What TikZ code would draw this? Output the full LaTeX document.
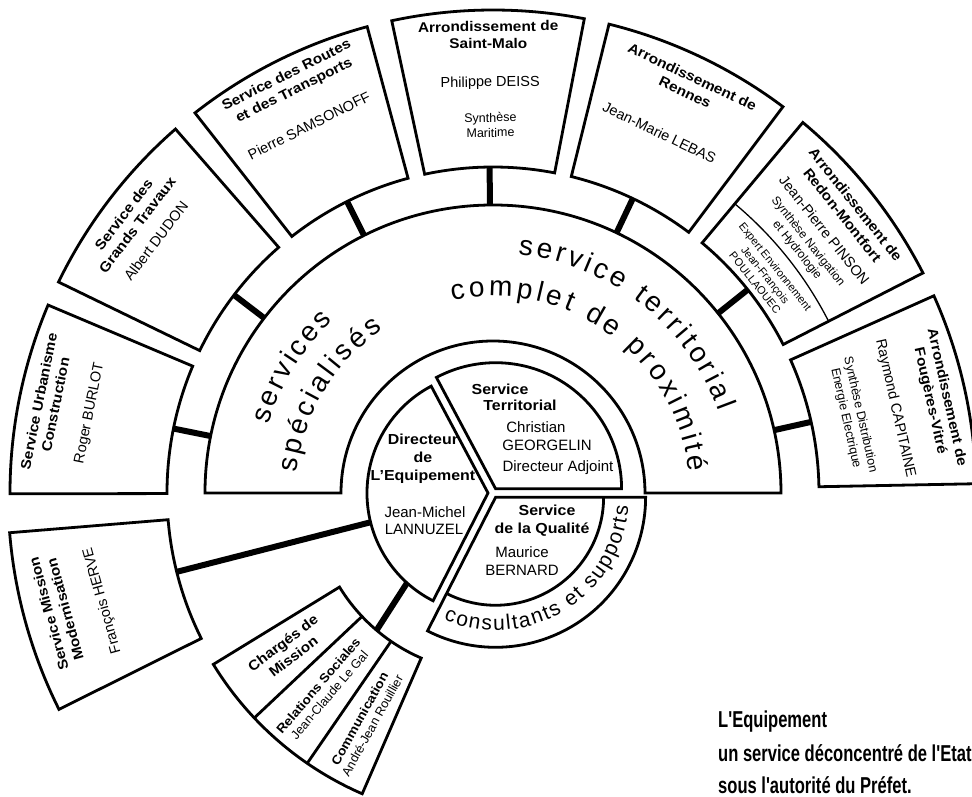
\documentclass[tikz,border=0pt]{standalone}
\usepackage{fontspec}
\setmainfont{Liberation Sans}[BoldFeatures={FakeStretch=1.1}]
\newfontfamily\condfont{Liberation Sans}[FakeStretch=0.72]
\usetikzlibrary{decorations.text}
\newcommand\bandfont{\fontsize{28}{30}\selectfont}
\newcommand\consfont{\fontsize{21}{24}\selectfont}
\begin{document}
\begin{tikzpicture}[x=1pt,y=1pt,
  boxline/.style={draw=black, line width=2.8pt, line join=miter},
  thinline/.style={draw=black, line width=1.3pt},
  link/.style={line width=6pt},
  ttl/.style={font=\bfseries\fontsize{14}{17}\selectfont, align=center, inner sep=0pt},
  nm/.style={font=\fontsize{14.5}{17}\selectfont, align=center, inner sep=0pt},
  smtxt/.style={font=\fontsize{12.5}{15}\selectfont, align=center, inner sep=0pt},
  rdtxt/.style={font=\fontsize{12}{14}\selectfont, align=center, inner sep=0pt},
  tinytxt/.style={font=\fontsize{11}{13}\selectfont, align=center, inner sep=0pt},
  subtxt/.style={font=\fontsize{12.5}{14.5}\selectfont, align=center, inner sep=0pt},
  pietxt/.style={font=\fontsize{15}{18}\selectfont, inner sep=0pt, anchor=mid},
  piebold/.style={font=\bfseries\fontsize{14.5}{18}\selectfont, inner sep=0pt, anchor=mid},
  notetxt/.style={font=\condfont\bfseries\fontsize{23}{27}\selectfont, inner sep=0pt, anchor=base west}
]
\useasboundingbox (-493,-304) rectangle (479,493);
\fill[white] (-493,-304) rectangle (479,493);

% ---- big band
\draw[boxline] (0:152) -- (0:288) arc[start angle=0,end angle=180,radius=288]
  -- (180:152) arc[start angle=180,end angle=0,radius=152] -- cycle;

% ---- outer boxes and their links
\foreach \c/\n in {12.6/fo, 38.6/rd, 64.6/rn, 90.6/sm, 116.6/ro, 142.6/gt, 168.6/ur} {
  \draw[boxline] ({\c-11.5}:326) -- ({\c-11.5}:483)
    arc[start angle={\c-11.5}, end angle={\c+11.5}, radius=483]
    -- ({\c+11.5}:326) arc[start angle={\c+11.5}, end angle={\c-11.5}, radius=326] -- cycle;
  \coordinate (band-\n) at (\c:288);
  \coordinate (box-\n) at (\c:326);
  \draw[link] (band-\n) -- (box-\n);
}
% Redon inner divider
\draw[thinline] (27.1:377) arc[start angle=27.1, end angle=50.1, radius=377];

% ---- Mission box
\draw[boxline] (184.7:326) -- (184.7:485) arc[start angle=184.7,end angle=206.5,radius=485]
  -- (206.5:326) arc[start angle=206.5,end angle=184.7,radius=326] -- cycle;
\coordinate (box-mi) at (194:326);

% ---- Charges de mission box
\draw[boxline] (211.5:180) -- (211.5:328) arc[start angle=211.5,end angle=246.5,radius=328]
  -- (246.5:180) arc[start angle=246.5,end angle=211.5,radius=180] -- cycle;
\draw[boxline] (223.3:180) -- (223.3:328);
\draw[boxline] (235.5:180) -- (235.5:328);
\coordinate (box-ch) at (229.7:180);

% ---- inner pie
\begin{scope}[shift={(-5,0)}]
  \draw[boxline] (0,0) -- (118:121) arc[start angle=118,end angle=243,radius=121] -- cycle;
  \coordinate (dir-mi) at (194:121);
  \coordinate (dir-ch) at (228:121);
\end{scope}
\begin{scope}[shift={(59:5)}]
  \draw[boxline] (0,0) -- (0:126) arc[start angle=0,end angle=118,radius=126] -- cycle;
\end{scope}
\begin{scope}[shift={(301.5:5)}]
  \draw[boxline] (0,0) -- (243:150) arc[start angle=243,end angle=360,radius=150] -- cycle;
  \draw[boxline] (243:108) arc[start angle=243,end angle=360,radius=108];
  \path[decorate, decoration={text along path, text align={fit to path},
      text={|\consfont|consultants et supports}}]
    (247:133) arc[start angle=247,end angle=356,radius=133];
\end{scope}
\draw[link] (dir-mi) -- (box-mi);
\draw[link] (dir-ch) -- (box-ch);

% ---- band texts
\path[decorate, decoration={text along path, text align={fit to path}, text={|\bandfont|services}}]
  (163:235) arc[start angle=163,end angle=133,radius=235];
\path[decorate, decoration={text along path, text align={fit to path}, text={|\bandfont|spécialisés}}]
  (174:197) arc[start angle=174,end angle=124,radius=197];
\path[decorate, decoration={text along path, text align={fit to path}, text={|\bandfont|service territorial}}]
  (84:240) arc[start angle=84,end angle=20,radius=240];
\path[decorate, decoration={text along path, text align={fit to path}, text={|\bandfont|complet de proximité}}]
  (102:197) arc[start angle=102,end angle=6,radius=197];

% ---- box texts
\node[ttl, rotate=-77.4] (foT) at (11.9:455) {Arrondissement de\\Fougères-Vitré};
\node[nm, rotate=-77.4] (foN) at (11.9:411) {Raymond CAPITAINE};
\node[smtxt, rotate=-77.4] (foS) at (12:368) {Synthèse Distribution\\Energie Electrique};

\node[ttl, rotate=-51.4] (rdT) at (38.5:455) {Arrondissement de\\Redon-Montfort};
\node[nm, rotate=-51.4] (rdN) at (38.4:423) {Jean-Pierre PINSON};
\node[rdtxt, rotate=-51.4] (rdS) at (38.6:396) {Synthèse Navigation\\et Hydrologie};
\node[tinytxt, rotate=-51.4] (rdE) at (38.7:349) {Expert Environnement\\Jean-François\\POULLAOUEC};

\node[ttl, rotate=-25.4] (rnT) at (64.4:453) {Arrondissement de\\Rennes};
\node[nm, rotate=-25.4] (rnN) at (65.2:397) {Jean-Marie LEBAS};

\node[ttl, rotate=0.6] (smT) at (90.6:458) {Arrondissement de\\Saint-Malo};
\node[nm, rotate=0.6] (smN) at (90.4:410) {Philippe DEISS};
\node[smtxt, rotate=0.6] (smS) at (90.4:368) {Synthèse\\Maritime};

\node[ttl, rotate=26.6] (roT) at (116.3:457) {Service des Routes\\et des Transports};
\node[nm, rotate=26.6] (roN) at (116.6:411) {Pierre SAMSONOFF};

\node[ttl, rotate=52.6] (gtT) at (143:454) {Service des\\Grands Travaux};
\node[nm, rotate=52.6] (gtN) at (143.2:421) {Albert DUDON};

\node[ttl, rotate=78.6] (urT) at (168.6:455) {Service Urbanisme\\Construction};
\node[nm, rotate=78.6] (urN) at (168.8:411) {Roger BURLOT};

\node[ttl, rotate=105.4] (miT) at (195.2:452) {Service Mission\\Modernisation};
\node[nm, rotate=105.4] (miN) at (195.4:405) {François HERVE};

\node[ttl, rotate=37.4] (chT) at (217.4:258) {Chargés de\\Mission};
\node[subtxt, rotate=49.4] (chR) at (229.4:260) {{\bfseries Relations Sociales}\\Jean-Claude Le Gal};
\node[subtxt, rotate=61] (chC) at (241:262) {{\bfseries Communication}\\André-Jean Rouillier};

% ---- pie texts
\node[piebold] (d1) at (-70,51) {Directeur};
\node[piebold] (d2) at (-70,33) {de};
\node[piebold] (d3) at (-70,15) {L'Equipement};
\node[pietxt] (d4) at (-68,-22) {Jean-Michel};
\node[pietxt] (d5) at (-69,-39) {LANNUZEL};

\node[piebold] (t1) at (7,101) {Service};
\node[piebold] (t2) at (27,85) {Territorial};
\node[pietxt] (t3) at (43,63) {Christian};
\node[pietxt] (t4) at (54,45) {GEORGELIN};
\node[pietxt] (t5) at (65,24) {Directeur Adjoint};

\node[piebold] (q1) at (54,-20) {Service};
\node[piebold] (q2) at (49,-38) {de la Qualité};
\node[pietxt] (q3) at (29,-62) {Maurice};
\node[pietxt] (q4) at (29,-80) {BERNARD};

% ---- note
\node[notetxt] (n1) at (225,-235) {L'Equipement};
\node[notetxt] (n2) at (225,-268) {un service déconcentré de l'Etat};
\node[notetxt] (n3) at (225,-300) {sous l'autorité du Préfet.};
\end{tikzpicture}
\end{document}
